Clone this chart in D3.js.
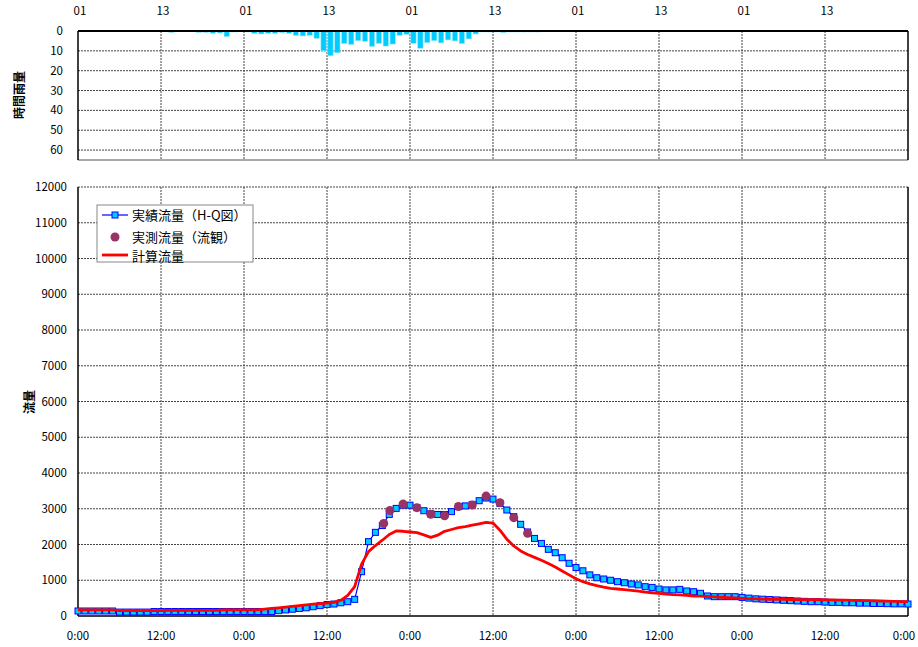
<!DOCTYPE html>
<html><head><meta charset="utf-8">
<script src="https://cdn.jsdelivr.net/npm/d3@7"></script>
<style>
body{margin:0;background:#fff}
svg{font-family:"Noto Sans CJK JP","Noto Sans",sans-serif;display:block}
</style></head>
<body><div id="chart"></div>
<script>
// hourly rainfall (mm), hour 1 .. 67 of the period
const rain = [0.3,0,0,0,0,0,0,0.3,0,0, 0.3,0.3,0.3,0.7,0.3,0,0,0.7,0.7,1.2,
  1,2.8,0.5,0,0.5,1.3,1.5,1.2,1.3,0.8, 1.2,2.3,2.5,2.2,3.7,10,12.5,11,6.3,6.8,
  4.9,5.2,7.8,6.3,7.6,6.6,2.2,1.7,6.2,8.7, 5.9,4.9,6,4.5,5,6.4,4,1.5,0.5,0.5,
  0.5,0.8,0.5,0.5,0.5,0.5,0.5];

// actual flow from H-Q curve, hourly 0..120
const actual = [140,140,140,140,140,140,110,110,110,110, 110,125,125,125,125,125,125,125,125,125,
  125,125,125,125,125,125,125,125,125,150, 170,190,210,230,260,290,320,335,370,400,
  466,1240,2080,2340,2530,2840,3010,3100,3100,3030, 2945,2860,2840,2840,2920,3060,3080,3120,3225,3300,
  3270,3150,2965,2780,2565,2350,2170,2030,1865,1770, 1630,1475,1355,1265,1150,1070,1035,1000,960,930,
  895,870,820,800,755,730,730,745,700,680, 635,560,540,540,540,540,520,500,480,470,
  460,450,440,430,420,410,400,400,390,380, 380,370,370,360,360,350,350,345,340,340, 335];

// computed flow, hourly 0..120
const calc = [175,170,170,170,170,170,150,150,150,150, 150,150,150,155,155,155,155,155,155,155,
  155,170,170,170,170,170,170,190,210,230, 250,270,290,310,330,345,360,380,440,580,
  820,1450,1800,1970,2120,2280,2380,2370,2350,2330, 2270,2200,2260,2370,2420,2470,2500,2540,2580,2620,
  2600,2400,2150,1960,1820,1720,1640,1560,1470,1370, 1260,1150,1040,960,900,850,805,775,755,735,
  715,695,670,650,630,615,600,590,575,560, 555,545,535,525,515,505,495,485,478,472,
  468,466,464,462,460,458,456,454,452,450, 446,442,438,434,430,426,420,414,408,402, 400];

// observed flow (current meter)
const obsHour = [44.2,45.1,47,49,51,53,55,57,59,61,63,65];
const obsFlow = [2590,2950,3130,3030,2845,2805,3060,3105,3355,3170,2750,2315];

const timeTicks = [0,12,24,36,48,60,72,84,96,108,120];
const timeLabels = ['0:00','12:00','0:00','12:00','0:00','12:00','0:00','12:00','0:00','12:00','0:00'];
const rainLabels = ['01','13','01','13','01','13','01','13','01','13'];
const rainTicks = [0,10,20,30,40,50,60];
const flowTicks = [0,1000,2000,3000,4000,5000,6000,7000,8000,9000,10000,11000,12000];

const W = 918, H = 647;
const L = 78, R = 908;
const x = d3.scaleLinear().domain([0, 120]).range([L, R]);
const yr = d3.scaleLinear().domain([0, 65]).range([31, 160]);
const yq = d3.scaleLinear().domain([0, 12000]).range([616, 187]);

const svg = d3.select('#chart').append('svg').attr('width', W).attr('height', H);
const grid = (g, x1, y1, x2, y2) => g.append('line').attr('x1', x1).attr('y1', y1).attr('x2', x2).attr('y2', y2)
  .attr('stroke', '#444').attr('stroke-width', 1).attr('stroke-dasharray', '2,1');

// ---- rainfall panel
const rainG = svg.append('g');
rainTicks.slice(1).forEach(v => grid(rainG, L, yr(v), R, yr(v)));
timeTicks.slice(1, -1).forEach(h => grid(rainG, x(h), 31, x(h), 160));
rainG.selectAll('rect.rb').data(rain).join('rect').attr('class', 'rb')
  .attr('x', (d, i) => x(i) + 0.8).attr('width', x(1) - x(0) - 1.6)
  .attr('y', 31).attr('height', d => yr(d) - yr(0))
  .attr('fill', '#00ccff').attr('stroke', '#9be8ff').attr('stroke-width', 0.6);
rainG.append('line').attr('x1', L).attr('x2', R).attr('y1', 160).attr('y2', 160).attr('stroke', '#aaa').attr('stroke-width', 2);
rainG.append('line').attr('x1', L).attr('x2', R).attr('y1', 31).attr('y2', 31).attr('stroke', '#000').attr('stroke-width', 2);
[L, R].forEach(xx => rainG.append('line').attr('x1', xx).attr('x2', xx).attr('y1', 31).attr('y2', 160).attr('stroke', '#000').attr('stroke-width', 1.5));
rainG.selectAll('text.rt').data(rainTicks).join('text').attr('class', 'rt')
  .attr('x', 63).attr('y', d => yr(d) + 4).attr('text-anchor', 'end').attr('font-size', 11.5).text(d => d);
rainG.selectAll('text.rl').data(rainLabels).join('text').attr('class', 'rl')
  .attr('x', (d, i) => x(timeTicks[i]) + 2).attr('y', 15).attr('text-anchor', 'middle').attr('font-size', 11.5).text(d => d);
rainG.append('text').attr('transform', 'translate(24,95) rotate(-90)').attr('text-anchor', 'middle')
  .attr('font-size', 12).attr('font-weight', 'bold').text('時間雨量');

// ---- flow panel
const flowG = svg.append('g');
flowTicks.slice(1).forEach(v => grid(flowG, L, yq(v), R, yq(v)));
timeTicks.slice(1, -1).forEach(h => grid(flowG, x(h), 187, x(h), 616));
flowG.append('line').attr('x1', L).attr('x2', R).attr('y1', 616).attr('y2', 616).attr('stroke', '#000').attr('stroke-width', 1.5);
[L, R].forEach(xx => flowG.append('line').attr('x1', xx).attr('x2', xx).attr('y1', 187).attr('y2', 616).attr('stroke', '#000').attr('stroke-width', 1.5));
flowG.selectAll('text.ft').data(flowTicks).join('text').attr('class', 'ft')
  .attr('x', 67).attr('y', d => yq(d) + 4).attr('text-anchor', 'end').attr('font-size', 11.5).text(d => d);
flowG.selectAll('text.tl').data(timeLabels).join('text').attr('class', 'tl')
  .attr('x', (d, i) => Math.min(x(timeTicks[i]), W - 14)).attr('y', 640).attr('text-anchor', 'middle').attr('font-size', 11.5).text(d => d);
flowG.append('text').attr('transform', 'translate(34,402) rotate(-90)').attr('text-anchor', 'middle')
  .attr('font-size', 12).attr('font-weight', 'bold').text('流量');

const line = d3.line().x((d, i) => x(i)).y(d => yq(d));
flowG.append('path').attr('d', line(actual)).attr('fill', 'none').attr('stroke', '#0000ff').attr('stroke-width', 1.2);
flowG.selectAll('rect.sq').data(actual).join('rect').attr('class', 'sq')
  .attr('x', (d, i) => x(i) - 3).attr('y', d => yq(d) - 3).attr('width', 6).attr('height', 6)
  .attr('fill', '#00ccff').attr('stroke', '#0000ff').attr('stroke-width', 1);
flowG.append('path').attr('d', line(calc)).attr('fill', 'none').attr('stroke', '#ff0000').attr('stroke-width', 2.8)
  .attr('stroke-linejoin', 'round');
flowG.selectAll('circle.ob').data(obsFlow).join('circle').attr('class', 'ob')
  .attr('cx', (d, i) => x(obsHour[i])).attr('cy', d => yq(d)).attr('r', 4.5).attr('fill', '#993366');

// legend
const lg = svg.append('g').attr('transform', 'translate(97,205)');
lg.append('rect').attr('width', 156).attr('height', 57).attr('fill', '#fff').attr('stroke', '#888');
lg.append('line').attr('x1', 5).attr('x2', 31).attr('y1', 10).attr('y2', 10).attr('stroke', '#0000ff').attr('stroke-width', 1.2);
lg.append('rect').attr('x', 15).attr('y', 7).attr('width', 6).attr('height', 6).attr('fill', '#00ccff').attr('stroke', '#0000ff');
lg.append('circle').attr('cx', 18).attr('cy', 32).attr('r', 4.5).attr('fill', '#993366');
lg.append('line').attr('x1', 5).attr('x2', 31).attr('y1', 50).attr('y2', 50).attr('stroke', '#ff0000').attr('stroke-width', 2.8);
[['実績流量（H-Q図）', 10], ['実測流量（流観）', 32], ['計算流量', 51]].forEach(([t, yy]) =>
  lg.append('text').attr('x', 35).attr('y', yy + 5).attr('font-size', 13).text(t));
</script>
</body></html>
